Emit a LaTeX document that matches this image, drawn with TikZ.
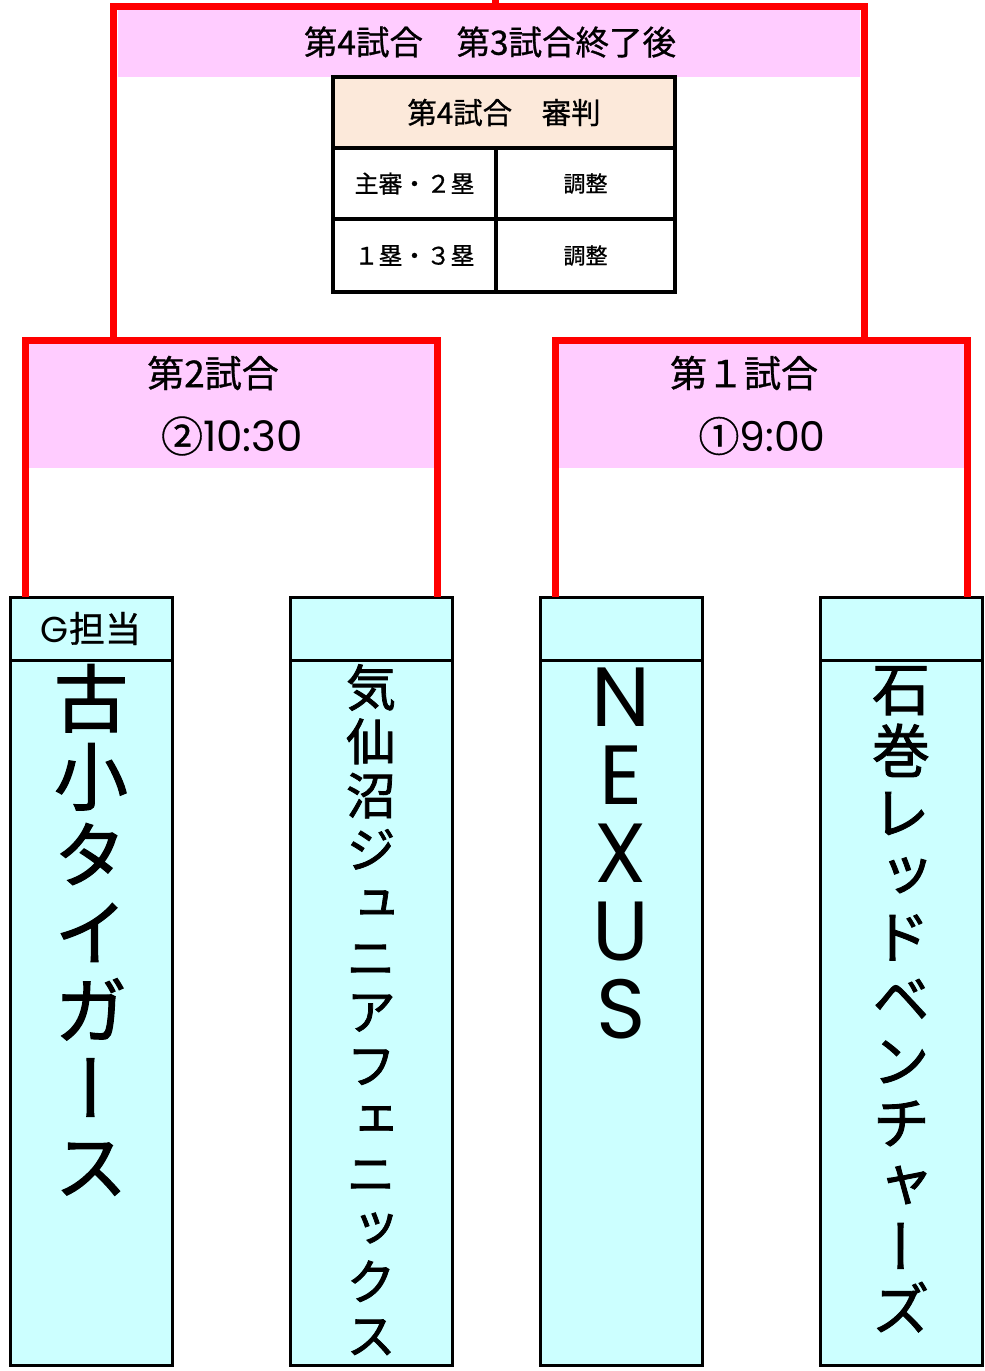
\documentclass[tikz,border=0pt]{standalone}
\usepackage{fontspec}
\newfontfamily\jp[FakeBold=0.8]{Noto Sans CJK JP}
\newfontfamily\jpv[RawFeature=+vert,FakeBold=1.5]{Noto Sans CJK JP}
\newfontfamily\pop{Poppins}
\definecolor{pinkbg}{HTML}{FFCCFF}
\definecolor{cyanbg}{HTML}{CCFFFF}
\definecolor{peach}{HTML}{FCE9DA}
\definecolor{bred}{HTML}{FF0000}
\tikzset{
  redline/.style={draw=bred,line width=7pt},
  gamebox/.style={fill=pinkbg,draw=none,anchor=north west,inner sep=0pt,outer sep=0pt},
  cell/.style={draw=black,line width=4.5pt,anchor=north west,inner sep=0pt,outer sep=0pt},
  teambox/.style={draw=black,line width=3pt,fill=cyanbg,anchor=north west,inner sep=0pt,outer sep=0pt,minimum width=162pt},
  lbl/.style={inner sep=0pt,text=black},
  vname/.style={inner sep=0pt,anchor=north,align=center,text=black},
}
\newcommand{\vfs}[3]{#1\fontsize{#2}{#3}\selectfont\lineskiplimit=-1000pt\lineskip=0pt}
\begin{document}
\begin{tikzpicture}[x=1pt,y=-1pt]
\useasboundingbox (0,0) rectangle (985,1371);
% game header areas
\node[gamebox,minimum width=742pt,minimum height=67pt] (g4) at (118,10) {};
\node[gamebox,minimum width=406pt,minimum height=125pt] (g2) at (28,343) {};
\node[gamebox,minimum width=406pt,minimum height=125pt] (g1) at (558,343) {};
\node[lbl,font=\jp\fontsize{33.5}{38}\selectfont] (g4t) at (490,42) {第4試合　第3試合終了後};
\node[lbl,font=\jp\fontsize{37}{42}\selectfont] (g2t) at (213,373) {第2試合};
\node[lbl,font=\jp\fontsize{42}{46}\selectfont] (g2s) at (232,436) {②{\pop 10:30}};
\node[lbl,font=\jp\fontsize{37}{42}\selectfont] (g1t) at (744,373) {第１試合};
\node[lbl,font=\jp\fontsize{41}{46}\selectfont] (g1s) at (762,436) {①{\pop 9:00}};
% referee table
\node[cell,fill=peach,minimum width=342pt,minimum height=71pt] (hdr) at (333,77) {};
\node[cell,minimum width=163pt,minimum height=71pt] (c11) at (333,148) {};
\node[cell,minimum width=179pt,minimum height=71pt] (c12) at (496,148) {};
\node[cell,minimum width=163pt,minimum height=73pt] (c21) at (333,219) {};
\node[cell,minimum width=179pt,minimum height=73pt] (c22) at (496,219) {};
\node[lbl,font=\jp\fontsize{29.5}{34}\selectfont] at (hdr.center) {第4試合　審判};
\node[lbl,font=\jp\fontsize{24}{28}\selectfont] at (c11.center) {主審・２塁};
\node[lbl,font=\jp\fontsize{22}{26}\selectfont] at (c12.center) {調整};
\node[lbl,font=\jp\fontsize{24}{28}\selectfont] at (c21.center) {１塁・３塁};
\node[lbl,font=\jp\fontsize{22}{26}\selectfont] at (c22.center) {調整};
% team boxes
\foreach \n/\x in {1/10,2/290,3/540,4/820}{
  \node[teambox,minimum height=63pt] (t\n h) at (\x,597) {};
  \node[teambox,minimum height=705pt] (t\n b) at (\x,660) {};
}
\node[lbl,font=\jp\fontsize{36}{40}\selectfont] at (t1h.center) {{\pop G}担当};
\node[vname,font={\vfs{\jpv}{74}{78}}] (n1) at (91,664) {古\\小\\タ\\イ\\ガ\\ー\\ス};
\node[vname,font={\vfs{\jpv}{50}{54}}] (n2) at (371,664) {気\\仙\\沼\\ジ\\ュ\\ニ\\ア\\フ\\ェ\\ニ\\ッ\\ク\\ス};
\node[vname,font={\vfs{\pop}{84}{78}}] (n3) at (621,668) {N\\E\\X\\U\\S};
\node[vname,font={\vfs{\jpv}{58}{62}}] (n4) at (901,666) {石\\巻\\レ\\ッ\\ド\\ベ\\ン\\チ\\ャ\\ー\\ズ};
% bracket connectors
\coordinate (p1) at (25,597);
\coordinate (p2) at (437,597);
\coordinate (p3) at (555,597);
\coordinate (p4) at (967,597);
\coordinate (h2) at (113,340);
\coordinate (h1) at (864,340);
\coordinate (top) at (495,6.5);
\coordinate (topend) at (495,0);
\draw[redline] (p1) |- (h2) -| (p2);
\draw[redline] (p3) |- (h1) -| (p4);
\draw[redline] (h2) |- (top) -| (h1);
\draw[redline] (top) -- (topend);
\end{tikzpicture}
\end{document}
